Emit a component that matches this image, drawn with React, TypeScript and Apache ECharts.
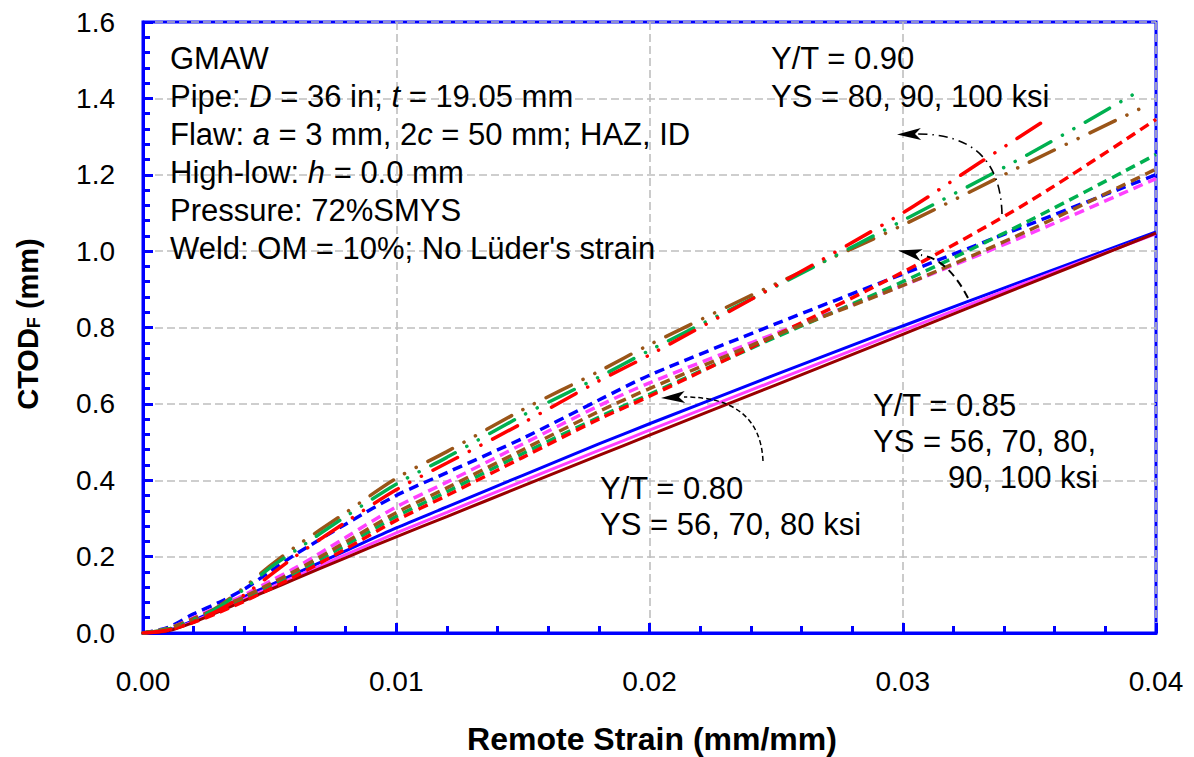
import React, { useEffect, useRef } from "react";
import * as echarts from "echarts";

// ---------- data ----------
const strain = [0, 0.001, 0.002, 0.003, 0.004, 0.005, 0.006, 0.008, 0.010, 0.012, 0.015, 0.018, 0.020, 0.025, 0.030, 0.035, 0.040];

// Y/T = 0.80 (solid)
const yt80Blue = [0, 0.008, 0.033, 0.064, 0.095, 0.125, 0.155, 0.215, 0.275, 0.33, 0.413, 0.495, 0.548, 0.677, 0.804, 0.928, 1.05];
const yt80Magenta = [0, 0.007, 0.03, 0.059, 0.089, 0.118, 0.147, 0.205, 0.262, 0.316, 0.398, 0.478, 0.531, 0.662, 0.792, 0.921, 1.045];
const yt80DarkRed = [0, 0.006, 0.028, 0.056, 0.085, 0.113, 0.141, 0.197, 0.252, 0.305, 0.385, 0.465, 0.518, 0.65, 0.782, 0.915, 1.047];

// Y/T = 0.85 (dashed)
const yt85Blue = [0, 0.015, 0.05, 0.08, 0.115, 0.16, 0.205, 0.285, 0.36, 0.42, 0.51, 0.61, 0.675, 0.81, 0.94, 1.07, 1.2];
const yt85Magenta = [0, 0.012, 0.04, 0.07, 0.1, 0.135, 0.17, 0.25, 0.33, 0.395, 0.495, 0.595, 0.655, 0.785, 0.91, 1.045, 1.19];
const yt85Brown = [0, 0.012, 0.038, 0.066, 0.095, 0.128, 0.162, 0.238, 0.315, 0.38, 0.48, 0.58, 0.64, 0.78, 0.91, 1.055, 1.215];
const yt85Green = [0, 0.012, 0.036, 0.063, 0.092, 0.124, 0.157, 0.23, 0.305, 0.37, 0.47, 0.565, 0.625, 0.775, 0.92, 1.08, 1.253];
const yt85Red = [0, 0.008, 0.028, 0.054, 0.083, 0.115, 0.148, 0.22, 0.295, 0.36, 0.46, 0.56, 0.62, 0.78, 0.945, 1.13, 1.345];

// Y/T = 0.90 (dash-dot-dot)
const strain90Brown = [0, 0.001, 0.002, 0.003, 0.004, 0.005, 0.006, 0.008, 0.010, 0.012, 0.015, 0.018, 0.020, 0.025, 0.030, 0.035, 0.0396];
const yt90Brown = [0, 0.01, 0.035, 0.07, 0.12, 0.175, 0.225, 0.315, 0.405, 0.475, 0.585, 0.685, 0.755, 0.915, 1.068, 1.233, 1.38];
const strain90Green = [0, 0.001, 0.002, 0.003, 0.004, 0.005, 0.006, 0.008, 0.010, 0.012, 0.015, 0.018, 0.020, 0.025, 0.030, 0.035, 0.0392];
const yt90Green = [0, 0.01, 0.035, 0.068, 0.115, 0.17, 0.215, 0.305, 0.39, 0.46, 0.57, 0.67, 0.74, 0.908, 1.08, 1.255, 1.414];
const strain90Red = [0, 0.001, 0.002, 0.003, 0.004, 0.005, 0.006, 0.008, 0.010, 0.012, 0.015, 0.018, 0.020, 0.025, 0.030, 0.033, 0.0357];
const yt90Red = [0, 0.008, 0.03, 0.06, 0.1, 0.15, 0.2, 0.29, 0.375, 0.445, 0.55, 0.66, 0.728, 0.91, 1.1, 1.23, 1.346];

const xTickLabels = ["0.00", "0.01", "0.02", "0.03", "0.04"];
const yTickLabels = ["0.0", "0.2", "0.4", "0.6", "0.8", "1.0", "1.2", "1.4", "1.6"];

const infoLines = [
  "{n|GMAW}",
  "{n|Pipe: }{i|D}{n| = 36 in; }{i|t}{n| = 19.05 mm}",
  "{n|Flaw: }{i|a}{n| = 3 mm, 2}{i|c}{n| = 50 mm; HAZ, ID}",
  "{n|High-low: }{i|h}{n| = 0.0 mm}",
  "{n|Pressure: 72%SMYS}",
  "{n|Weld: OM = 10%; No Lüder's strain}",
];

// ---------- styles ----------
const C = {
  blue: "#0000FF",
  magenta: "#FF40FF",
  darkRed: "#990000",
  brown: "#9A5518",
  green: "#00B050",
  red: "#FF0000",
};
const FONT = "Liberation Sans, Arial, Helvetica, sans-serif";
const TXT = 31;

const zip = (xs: number[], ys: number[]) => ys.map((y, i) => [xs[i], y]);

function solid(name: string, data: number[], color: string) {
  return {
    name, type: "line", data: zip(strain, data), showSymbol: false, smooth: 0.3,
    lineStyle: { color, width: 3, type: "solid" }, z: 3,
  };
}
function dashed(name: string, data: number[], color: string) {
  return {
    name, type: "line", data: zip(strain, data), showSymbol: false, smooth: 0.3,
    lineStyle: { color, width: 3.5, type: [10, 6], cap: "butt" }, z: 4,
  };
}
function dashDot(name: string, xs: number[], data: number[], color: string) {
  return {
    name, type: "line", data: zip(xs, data), showSymbol: false, smooth: 0.3,
    lineStyle: { color, width: 3.5, type: [28, 13, 0.1, 13, 0.1, 13], cap: "round" }, z: 5,
  };
}

function arrowHead(tip: number[], from: number[], len = 24, half = 6, notch = 18) {
  const dx = tip[0] - from[0];
  const dy = tip[1] - from[1];
  const L = Math.hypot(dx, dy);
  const ux = dx / L, uy = dy / L;
  const px = -uy, py = ux;
  const bx = tip[0] - ux * len, by = tip[1] - uy * len;
  const nx = tip[0] - ux * notch, ny = tip[1] - uy * notch;
  return [
    [tip[0], tip[1]],
    [bx + px * half, by + py * half],
    [nx, ny],
    [bx - px * half, by - py * half],
  ];
}

function annotText(x: number, y: number, text: string) {
  return {
    type: "text", x, y, z: 10,
    style: { text, fontSize: TXT, fontFamily: FONT, fill: "#000", align: "left", verticalAlign: "middle" },
  };
}

export default function App() {
  const ref = useRef<HTMLDivElement>(null);
  useEffect(() => {
    if (!ref.current) return;
    const chart = echarts.init(ref.current, null, { renderer: "svg" });

    const rich = {
      n: { fontSize: TXT, fontFamily: FONT, color: "#000" },
      i: { fontSize: TXT, fontFamily: FONT, fontStyle: "italic", color: "#000" },
    };

    const graphic: any[] = [];
    infoLines.forEach((t, k) => {
      graphic.push({
        type: "text", x: 170, y: 58 + k * 38, z: 10,
        style: { text: t, rich, align: "left", verticalAlign: "middle", fontSize: TXT, fontFamily: FONT },
      });
    });

    graphic.push(annotText(771, 58, "Y/T = 0.90"));
    graphic.push(annotText(771, 96, "YS = 80, 90, 100 ksi"));
    graphic.push(annotText(873, 405, "Y/T = 0.85"));
    graphic.push(annotText(873, 441, "YS = 56, 70, 80,"));
    graphic.push(annotText(948, 477, "90, 100 ksi"));
    graphic.push(annotText(600, 488, "Y/T = 0.80"));
    graphic.push(annotText(600, 524, "YS = 56, 70, 80 ksi"));

    // annotation arrows
    graphic.push({
      type: "bezierCurve", z: 9,
      shape: { x1: 1002, y1: 214, cpx1: 1000, cpy1: 134, x2: 918, y2: 134 },
      style: { stroke: "#000", lineWidth: 1.6, fill: "none", lineDash: [9, 5, 1.5, 5] },
    });
    graphic.push({ type: "polygon", z: 9, shape: { points: arrowHead([897, 134.5], [918, 134]) }, style: { fill: "#000" } });

    graphic.push({
      type: "bezierCurve", z: 9,
      shape: { x1: 968, y1: 298, cpx1: 948, cpy1: 259, x2: 921, y2: 255 },
      style: { stroke: "#000", lineWidth: 2, fill: "none", lineDash: [8, 5] },
    });
    graphic.push({ type: "polygon", z: 9, shape: { points: arrowHead([898, 250.5], [921, 255]) }, style: { fill: "#000" } });

    graphic.push({
      type: "bezierCurve", z: 9,
      shape: { x1: 763, y1: 461, cpx1: 760, cpy1: 397, x2: 684, y2: 397 },
      style: { stroke: "#000", lineWidth: 1.5, fill: "none", lineDash: [5, 3] },
    });
    graphic.push({ type: "polygon", z: 9, shape: { points: arrowHead([661, 398], [684, 397]) }, style: { fill: "#000" } });

    // axis titles
    graphic.push({
      type: "text", x: 28, y: 324, rotation: Math.PI / 2, z: 10,
      style: {
        text: "{b|CTOD}{s|F}{b| (mm)}", align: "center", verticalAlign: "middle",
        rich: {
          b: { fontSize: 29, fontWeight: "bold", fontFamily: FONT, color: "#000" },
          s: { fontSize: 18, fontWeight: "bold", fontFamily: FONT, color: "#000", verticalAlign: "bottom", padding: [10, 0, 0, 0] },
        },
        fontSize: 29, fontFamily: FONT,
      },
    });
    graphic.push({
      type: "text", x: 652, y: 739, z: 10,
      style: { text: "Remote Strain (mm/mm)", fontSize: 32, fontWeight: "bold", fontFamily: FONT, fill: "#000", align: "center", verticalAlign: "middle" },
    });

    const option: any = {
      animation: false,
      backgroundColor: "#fff",
      grid: { left: 143, right: 38, top: 22, bottom: 124, show: true, borderColor: C.blue, borderWidth: 3, backgroundColor: "transparent" },
      xAxis: {
        type: "value", min: 0, max: 0.04, interval: 0.01,
        axisLine: { show: true, onZero: false, lineStyle: { color: C.blue, width: 3 } },
        axisTick: { show: true, inside: true, length: 10, lineStyle: { color: C.blue, width: 3 } },
        minorTick: { show: true, splitNumber: 5, length: 7, lineStyle: { color: C.blue, width: 3 } },
        splitLine: { show: true, lineStyle: { color: "#BFBFBF", width: 1.6, type: [8, 4] } },
        axisLabel: {
          margin: 34, fontSize: 28, fontFamily: FONT, color: "#000",
          formatter: (v: number) => xTickLabels[Math.round(v / 0.01)] ?? "",
        },
      },
      yAxis: {
        type: "value", min: 0, max: 1.6, interval: 0.2,
        axisLine: { show: true, onZero: false, lineStyle: { color: C.blue, width: 3 } },
        axisTick: { show: true, inside: true, length: 10, lineStyle: { color: C.blue, width: 3 } },
        minorTick: { show: true, splitNumber: 5, length: 7, lineStyle: { color: C.blue, width: 3 } },
        splitLine: { show: true, lineStyle: { color: "#BFBFBF", width: 1.6, type: [8, 4] } },
        axisLabel: {
          margin: 28, fontSize: 28, fontFamily: FONT, color: "#000",
          formatter: (v: number) => yTickLabels[Math.round(v / 0.2)] ?? "",
        },
      },
      series: [
        solid("YT80 Blue", yt80Blue, C.blue),
        solid("YT80 Magenta", yt80Magenta, C.magenta),
        solid("YT80 DarkRed", yt80DarkRed, C.darkRed),
        dashed("YT85 Blue", yt85Blue, C.blue),
        dashed("YT85 Magenta", yt85Magenta, C.magenta),
        dashed("YT85 Green", yt85Green, C.green),
        dashed("YT85 Red", yt85Red, C.red),
        dashed("YT85 Brown", yt85Brown, C.brown),
        dashDot("YT90 Brown", strain90Brown, yt90Brown, C.brown),
        dashDot("YT90 Green", strain90Green, yt90Green, C.green),
        dashDot("YT90 Red", strain90Red, yt90Red, C.red),
      ],
      graphic,
    };
    chart.setOption(option);
    return () => chart.dispose();
  }, []);

  return <div ref={ref} style={{ position: "fixed", left: 0, top: 0, width: 1194, height: 757, background: "#fff" }} />;
}
